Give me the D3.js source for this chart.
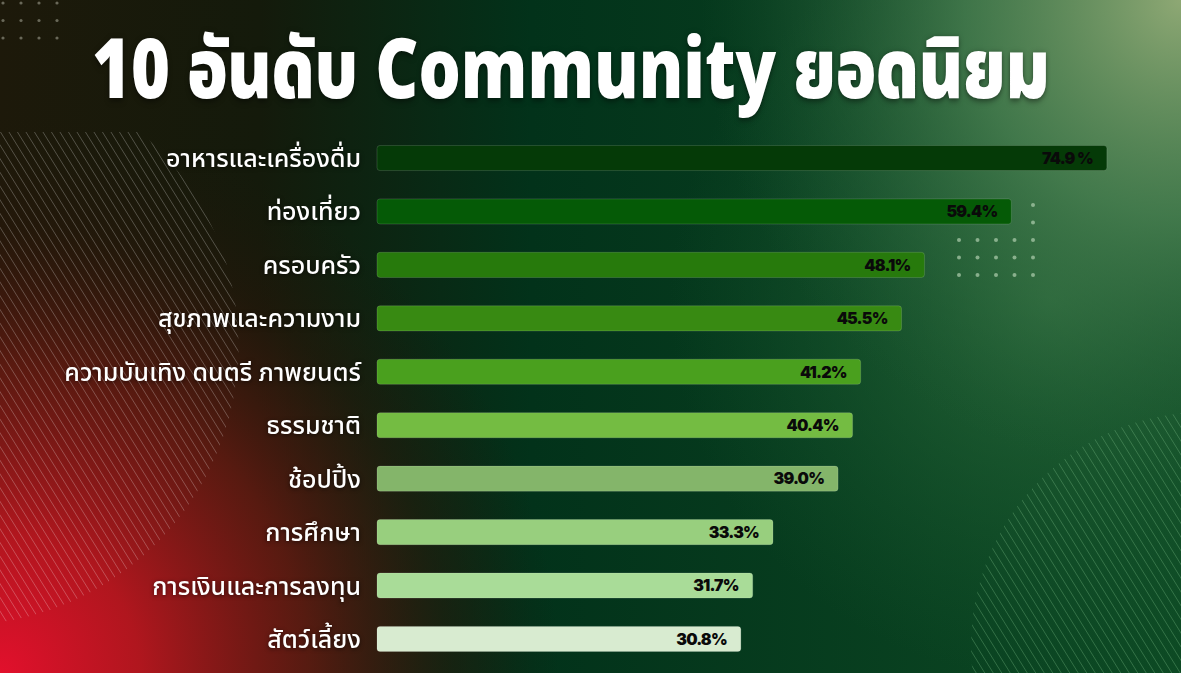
<!DOCTYPE html>
<html>
<head>
<meta charset="utf-8">
<script src="https://cdn.jsdelivr.net/npm/d3@7"></script>
<style>
  html, body { margin: 0; padding: 0; background: #03301a; }
  svg { display: block; }
</style>
</head>
<body>
<div id="chart"></div>
<script>
// Données
const categories = [
  "อาหารและเครื่องดื่ม",
  "ท่องเที่ยว",
  "ครอบครัว",
  "สุขภาพและความงาม",
  "ความบันเทิง ดนตรี ภาพยนตร์",
  "ธรรมชาติ",
  "ช้อปปิ้ง",
  "การศึกษา",
  "การเงินและการลงทุน",
  "สัตว์เลี้ยง"
];
const values = [74.9, 59.4, 48.1, 45.5, 41.2, 40.4, 39.0, 33.3, 31.7, 30.8];
const valueLabels = ["74.9 %", "59.4%", "48.1%", "45.5%", "41.2%", "40.4%", "39.0%", "33.3%", "31.7%", "30.8%"];
const barColors = ["#053a07", "#055a06", "#277a0c", "#388a12", "#4aa01e", "#74bc42", "#84b56a", "#98cf7e", "#a9dc98", "#d8ebd0"];
const titleText = "10 อันดับ Community ยอดนิยม";

const W = 1181, H = 673;
const thaiFont = "'Noto Sans Thai', 'Noto Sans Thai UI', 'Noto Sans', sans-serif";

const svg = d3.select("#chart").append("svg")
  .attr("width", W)
  .attr("height", H);

const defs = svg.append("defs");

// Fond : dégradés superposés
const base = defs.append("linearGradient").attr("id", "bg-base")
  .attr("x1", 0).attr("y1", 0).attr("x2", 1).attr("y2", 0);
base.append("stop").attr("offset", "0%").attr("stop-color", "#1d190a");
base.append("stop").attr("offset", "22%").attr("stop-color", "#141a0b");
base.append("stop").attr("offset", "45%").attr("stop-color", "#02321a");
base.append("stop").attr("offset", "100%").attr("stop-color", "#0d4a24");

const red = defs.append("radialGradient").attr("id", "bg-red")
  .attr("gradientUnits", "userSpaceOnUse")
  .attr("cx", 0).attr("cy", H).attr("r", 560);
red.append("stop").attr("offset", "0%").attr("stop-color", "#e2102c").attr("stop-opacity", 1);
red.append("stop").attr("offset", "25%").attr("stop-color", "#b8161f").attr("stop-opacity", 0.95);
red.append("stop").attr("offset", "55%").attr("stop-color", "#6e1a12").attr("stop-opacity", 0.75);
red.append("stop").attr("offset", "80%").attr("stop-color", "#2e160a").attr("stop-opacity", 0.4);
red.append("stop").attr("offset", "100%").attr("stop-color", "#1e160a").attr("stop-opacity", 0);

const light = defs.append("radialGradient").attr("id", "bg-light")
  .attr("gradientUnits", "userSpaceOnUse")
  .attr("cx", W).attr("cy", 0).attr("r", 480);
light.append("stop").attr("offset", "0%").attr("stop-color", "#8ea874").attr("stop-opacity", 1);
light.append("stop").attr("offset", "45%").attr("stop-color", "#4f8455").attr("stop-opacity", 0.75);
light.append("stop").attr("offset", "100%").attr("stop-color", "#1f5a34").attr("stop-opacity", 0);

const haze = defs.append("radialGradient").attr("id", "bg-haze")
  .attr("gradientUnits", "userSpaceOnUse")
  .attr("cx", 1050).attr("cy", 300).attr("r", 380);
haze.append("stop").attr("offset", "0%").attr("stop-color", "#2f6e3e").attr("stop-opacity", 0.8);
haze.append("stop").attr("offset", "100%").attr("stop-color", "#1a5a30").attr("stop-opacity", 0);

svg.append("rect").attr("width", W).attr("height", H).attr("fill", "url(#bg-base)");
svg.append("rect").attr("width", W).attr("height", H).attr("fill", "url(#bg-haze)");
svg.append("rect").attr("width", W).attr("height", H).attr("fill", "url(#bg-light)");
svg.append("rect").attr("width", W).attr("height", H).attr("fill", "url(#bg-red)");

// Hachures décoratives
defs.append("clipPath").attr("id", "clip-left")
  .append("path")
  .attr("d", "M0,132 H140 A280,280 0 0 1 -30,625 V132 Z");
defs.append("clipPath").attr("id", "clip-right")
  .append("circle").attr("cx", 1205).attr("cy", 646).attr("r", 234);

function stripes(clipId, x0, x1, y0, y1, color, opacity) {
  const g = svg.append("g").attr("clip-path", `url(#${clipId})`);
  const step = 8.5;
  const h = y1 - y0;
  const lines = d3.range(x0 - h, x1, step);
  g.selectAll("line").data(lines).enter().append("line")
    .attr("x1", d => d).attr("y1", y0)
    .attr("x2", d => d + h * 0.62).attr("y2", y1)
    .attr("stroke", color).attr("stroke-opacity", opacity)
    .attr("stroke-width", 1);
}
stripes("clip-left", -300, 300, 120, 660, "#ffffff", 0.25);
stripes("clip-right", 900, 1200, 400, 680, "#7fbf8a", 0.35);

// Points décoratifs
const dotsTL = d3.cross(d3.range(4), d3.range(3));
svg.append("g").selectAll("circle").data(dotsTL).enter().append("circle")
  .attr("cx", d => 3 + d[0] * 18)
  .attr("cy", d => 3 + d[1] * 17.5)
  .attr("r", 1.6)
  .attr("fill", "#8a8a7a").attr("fill-opacity", 0.7);

const dotsR = d3.cross(d3.range(5), d3.range(3)).concat([[4, -2], [4, -1]]);
svg.append("g").selectAll("circle").data(dotsR).enter().append("circle")
  .attr("cx", d => 959 + d[0] * 18.5)
  .attr("cy", d => 240 + d[1] * 17.5)
  .attr("r", 2)
  .attr("fill", "#a8c8a8").attr("fill-opacity", 0.75);

// Titre (compressé horizontalement pour tenir dans la largeur du visuel)
const titleG = svg.append("g");
const title = titleG.append("text")
  .attr("x", 0)
  .attr("y", 0)
  .attr("fill", "#ffffff")
  .attr("font-family", thaiFont)
  .attr("font-weight", 900)
  .attr("font-size", "84px")
  .style("filter", "drop-shadow(0 2px 3px rgba(0,0,0,0.5))")
  .text(titleText);
const titleW = title.node().getComputedTextLength();
const sx = Math.min(1, 958 / titleW);
titleG.attr("transform", `translate(92, 98) scale(${sx}, 1)`);

// Échelles
const barLeft = 377;
const data = categories.map((c, i) => ({ cat: c, value: values[i], label: valueLabels[i], color: barColors[i] }));

const y = d3.scaleBand()
  .domain(categories)
  .range([131.3, 665.7])
  .paddingInner(0.53)
  .paddingOuter(0.265);

// La longueur des barres de l'infographie suit à peu près une échelle log
const x = d3.scaleLog()
  .domain([30, 80])
  .range([353, 757]);

const rows = svg.append("g").selectAll(".row")
  .data(data)
  .enter()
  .append("g")
  .attr("class", "row")
  .attr("transform", d => `translate(0, ${y(d.cat)})`);

rows.append("rect")
  .attr("x", barLeft)
  .attr("y", 0)
  .attr("width", d => x(d.value))
  .attr("height", y.bandwidth())
  .attr("rx", 3)
  .attr("fill", d => d.color)
  .attr("stroke", "rgba(255,255,255,0.18)")
  .attr("stroke-width", 0.8);

rows.append("text")
  .attr("x", 361)
  .attr("y", y.bandwidth() / 2)
  .attr("dy", "0.36em")
  .attr("text-anchor", "end")
  .attr("fill", "#ffffff")
  .attr("font-family", thaiFont)
  .attr("font-weight", 500)
  .attr("font-size", "25px")
  .style("filter", "drop-shadow(0 1px 2px rgba(0,0,0,0.6))")
  .text(d => d.cat);

rows.append("text")
  .attr("x", d => barLeft + x(d.value) - 14)
  .attr("y", y.bandwidth() / 2)
  .attr("dy", "0.36em")
  .attr("text-anchor", "end")
  .attr("fill", "#0a0a0a")
  .attr("font-family", "Inter, Roboto, sans-serif")
  .attr("font-weight", 900)
  .attr("font-size", "16px")
  .attr("letter-spacing", "-0.8px")
  .text(d => d.label);
</script>
</body>
</html>
